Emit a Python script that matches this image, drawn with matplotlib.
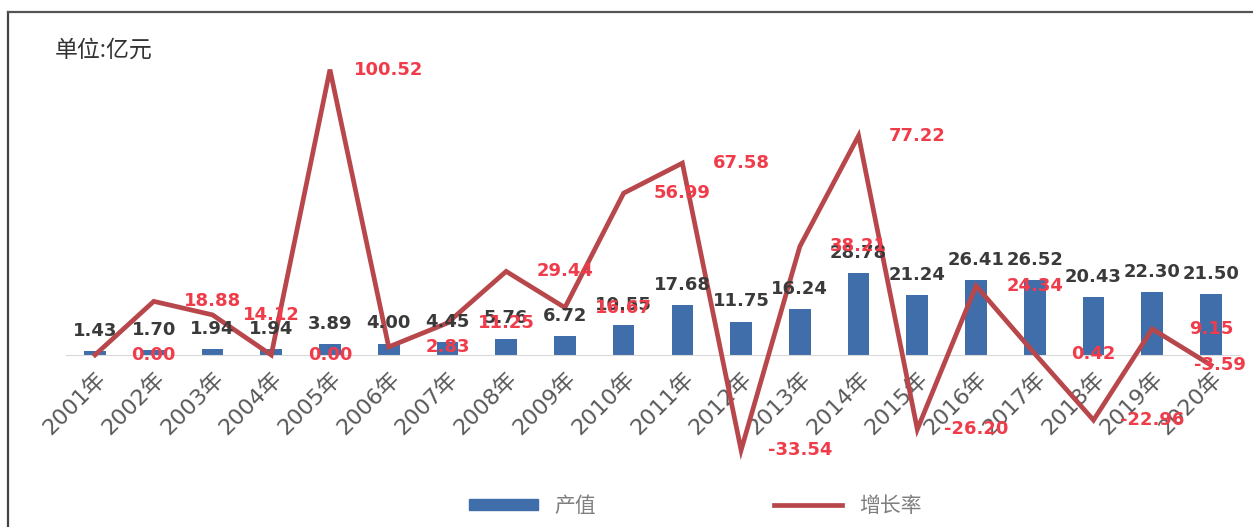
import numpy as np
import matplotlib.pyplot as plt
from matplotlib.lines import Line2D

plt.rcParams['font.family'] = ['DejaVu Sans', 'Noto Sans CJK SC']

# 年份、产值(亿元)、增长率(%)
years = ['2001年', '2002年', '2003年', '2004年', '2005年', '2006年', '2007年',
         '2008年', '2009年', '2010年', '2011年', '2012年', '2013年', '2014年',
         '2015年', '2016年', '2017年', '2018年', '2019年', '2020年']
output = [1.43, 1.70, 1.94, 1.94, 3.89, 4.00, 4.45, 5.76, 6.72, 10.55,
          17.68, 11.75, 16.24, 28.78, 21.24, 26.41, 26.52, 20.43, 22.30, 21.50]
growth = [0.00, 18.88, 14.12, 0.00, 100.52, 2.83, 11.25, 29.44, 16.67, 56.99,
          67.58, -33.54, 38.21, 77.22, -26.20, 24.34, 0.42, -22.96, 9.15, -3.59]

bar_color = '#3f6eab'
line_color = '#b8474c'

fig = plt.figure(figsize=(12.53, 5.27), dpi=100)
ax = fig.add_axes([0.0524, 0.111, 0.9375, 0.808])
x = np.arange(len(years))

ax.bar(x, output, width=0.37, color=bar_color, zorder=2)
ax.plot(x, growth, color=line_color, lw=3.4, zorder=3, solid_joinstyle='miter')

# 产值标签
for xi, v in zip(x, output):
    ax.annotate(f'{v:.2f}', (xi, v), xytext=(0, 8), textcoords='offset points',
                ha='center', va='bottom', fontsize=13, fontweight='bold',
                color='#3a3a3a', zorder=4)

# 增长率标签（右移一格）
for xi, v in zip(x, growth):
    lx = xi + 1 if xi < len(x) - 1 else xi + 0.15
    ax.text(lx, v, f'{v:.2f}', ha='center', va='center', fontsize=13,
            fontweight='bold', color='#f03c4a', zorder=5)

ax.set_xlim(-0.5, len(years) - 0.5)
ax.set_ylim(-40, 110)
for s in ax.spines.values():
    s.set_visible(False)
# 横轴放在零线上
ax.spines['bottom'].set_position(('data', 0))
ax.spines['bottom'].set_visible(True)
ax.spines['bottom'].set_color('#d9d9d9')
ax.set_yticks([])
ax.set_xticks(x)
ax.set_xticklabels(years, rotation=45, ha='right', va='top',
                   rotation_mode='anchor', fontsize=16, color='#595959')
ax.tick_params(axis='x', length=0, pad=9)

fig.text(0.044, 0.905, '单位:亿元', fontsize=16.5, color='#333333',
         family=['Noto Sans CJK SC'], fontweight='light', va='center')

handles = [plt.Rectangle((0, 0), 1, 1, color=bar_color),
           Line2D([0], [0], color=line_color, lw=3.4)]
fig.legend(handles, ['产值', '增长率'], loc='center', ncol=2,
           bbox_to_anchor=(0.555, 0.04), frameon=False,
           handlelength=3.3, handleheight=0.45, columnspacing=8.5,
           labelcolor='#7f7f7f', prop={'family': ['Noto Sans CJK SC'], 'size': 15})

# 外框
fig.add_artist(Line2D([0.006, 0.006], [0, 0.977], color='#444444', lw=1.6,
                      transform=fig.transFigure))
fig.add_artist(Line2D([0.006, 1], [0.977, 0.977], color='#555555', lw=1.6,
                      transform=fig.transFigure))

fig.savefig('out.png', dpi=100)
